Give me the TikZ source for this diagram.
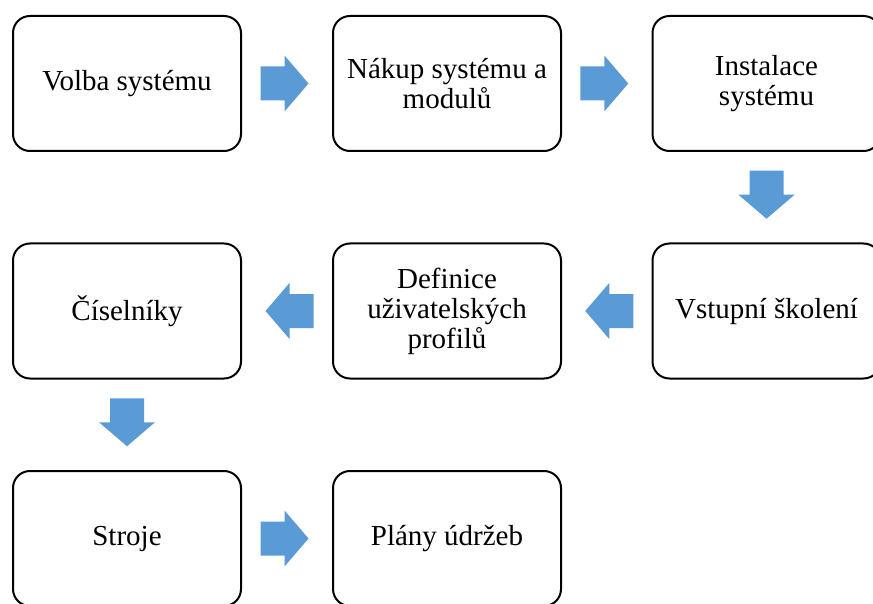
\documentclass[tikz,border=0pt]{standalone}
\usepackage{fontspec}
\setmainfont{Liberation Serif}
\usetikzlibrary{calc}

\definecolor{flowblue}{HTML}{5B9BD5}

\tikzset{
  stepbox/.style={draw=black, line width=2pt, rounded corners=17pt, fill=white,
    minimum width=228pt, minimum height=135pt, align=center,
    font=\fontsize{29}{30}\selectfont, inner sep=4pt},
  flowarrow/.style={fill=flowblue, draw=none}
}

% block arrow centred between two anchors, turned by #3 degrees
\newcommand{\blockarrow}[3]{%
  \fill[flowarrow, shift={($(#1)!0.5!(#2)$)}, rotate=#3]
    (-26.5,-17) -- (-2.5,-17) -- (-2.5,-28) -- (21.5,0) -- (-2.5,28)
    -- (-2.5,17) -- (-26.5,17) -- cycle;%
}

\begin{document}
\begin{tikzpicture}[x=1pt, y=-1pt]
  \clip (0,0) rectangle (873,604);
  \fill[white] (0,0) rectangle (873,604);

  % first row
  \node[stepbox] (volba)   at (127,83.5)   {Volba systému};
  \node[stepbox] (nakup)   at (447,83.5)   {Nákup systému a\\modulů};
  \node[stepbox] (inst)    at (766.5,83.5) {Instalace\\systému};
  % second row
  \node[stepbox] (skoleni) at (766.5,311)  {Vstupní školení};
  \node[stepbox] (profily) at (447,311)    {Definice\\uživatelských\\profilů};
  \node[stepbox] (cisel)   at (127,311)    {Číselníky};
  % third row
  \node[stepbox] (stroje)  at (127,538.5)  {Stroje};
  \node[stepbox] (plany)   at (447,538.5)  {Plány údržeb};

  % connectors
  \blockarrow{volba.east}{nakup.west}{0}
  \blockarrow{nakup.east}{inst.west}{0}
  \blockarrow{inst.south}{skoleni.north}{-90}
  \blockarrow{skoleni.west}{profily.east}{180}
  \blockarrow{profily.west}{cisel.east}{180}
  \blockarrow{cisel.south}{stroje.north}{-90}
  \blockarrow{stroje.east}{plany.west}{0}
\end{tikzpicture}
\end{document}
